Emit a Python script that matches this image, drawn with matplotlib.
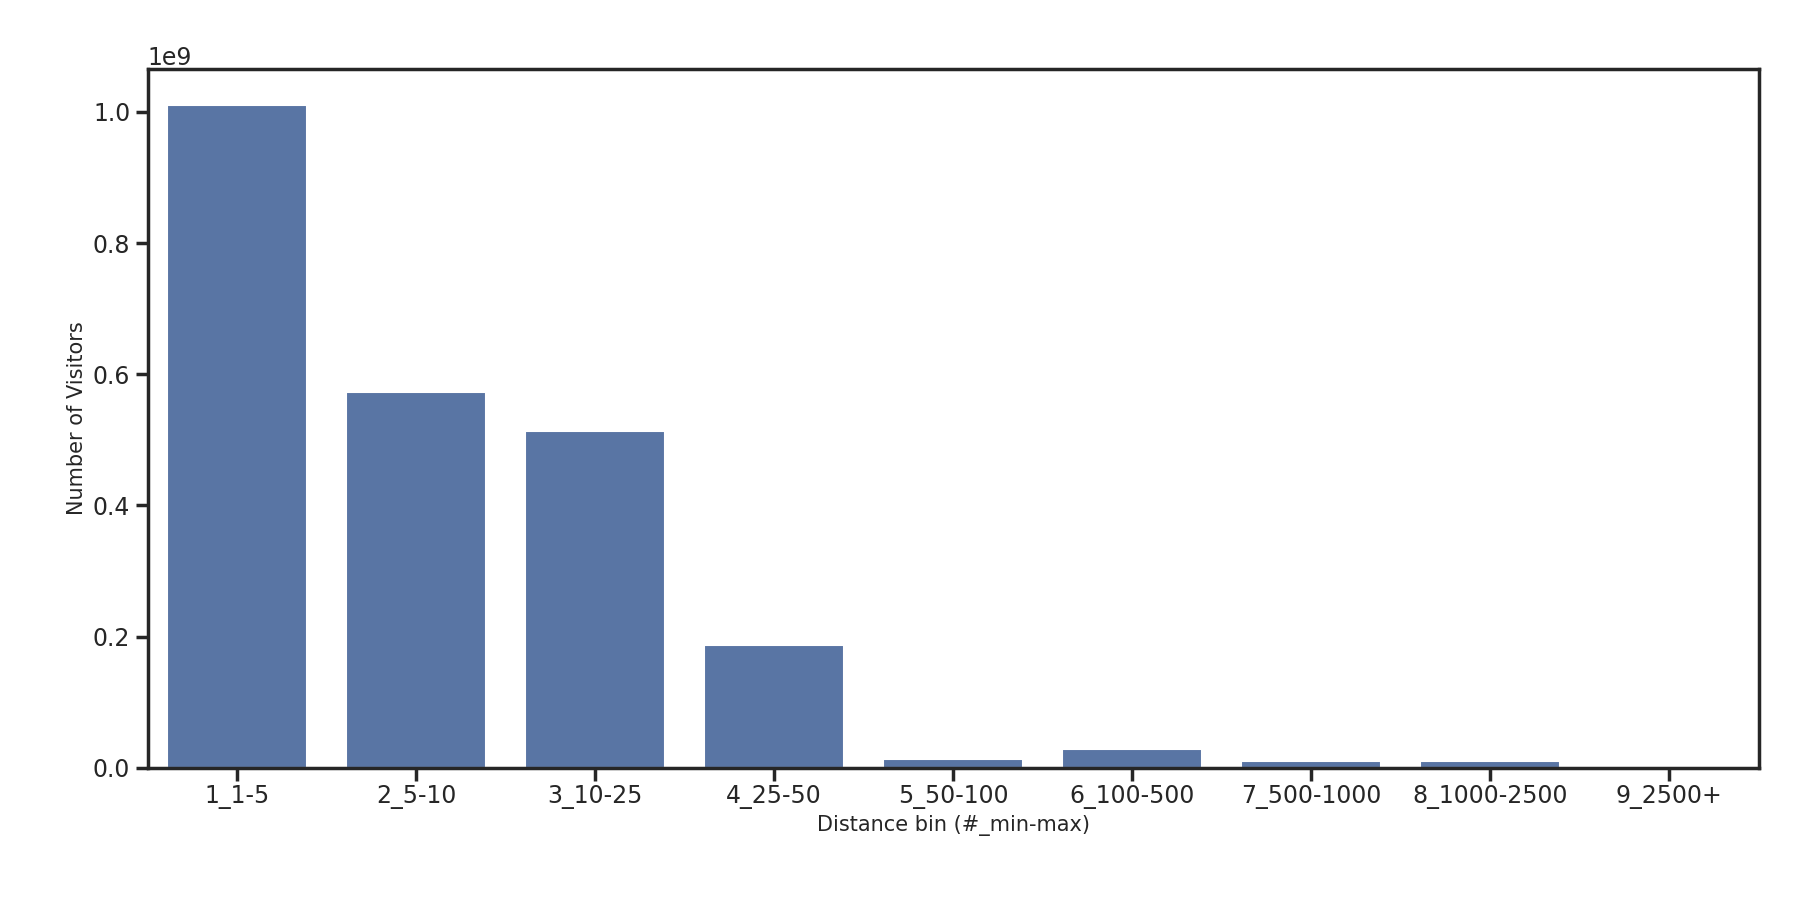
import matplotlib
matplotlib.use("Agg")
import matplotlib.pyplot as plt
import seaborn as sns

categories = ["1_1-5", "2_5-10", "3_10-25", "4_25-50", "5_50-100", "6_100-500", "7_500-1000", "8_1000-2500", "9_2500+"]
visitors = [1.010e9, 0.573e9, 0.514e9, 0.187e9, 0.014e9, 0.028e9, 0.0105e9, 0.0105e9, 0.001e9]

sns.set_theme(style="ticks", context="talk")
fig = plt.figure(figsize=(18, 9), dpi=100)
ax = fig.add_axes([0.082, 0.147, 0.895, 0.776])
ax.bar(range(len(categories)), visitors, width=0.78, color="#5975a4")
ax.set_xticks(range(len(categories)))
ax.set_xticklabels(categories)
ax.set_xlim(-0.5, len(categories) - 0.5)
ax.set_ylim(0, 1.065e9)
ax.set_xlabel("Distance bin (#_min-max)", fontsize=15)
ax.set_ylabel("Number of Visitors", fontsize=15)
for s in ax.spines.values():
    s.set_linewidth(2.5)
ax.tick_params(width=2.5, length=9, labelsize=17)
ax.yaxis.get_offset_text().set_fontsize(17)
fig.savefig("out.png")
